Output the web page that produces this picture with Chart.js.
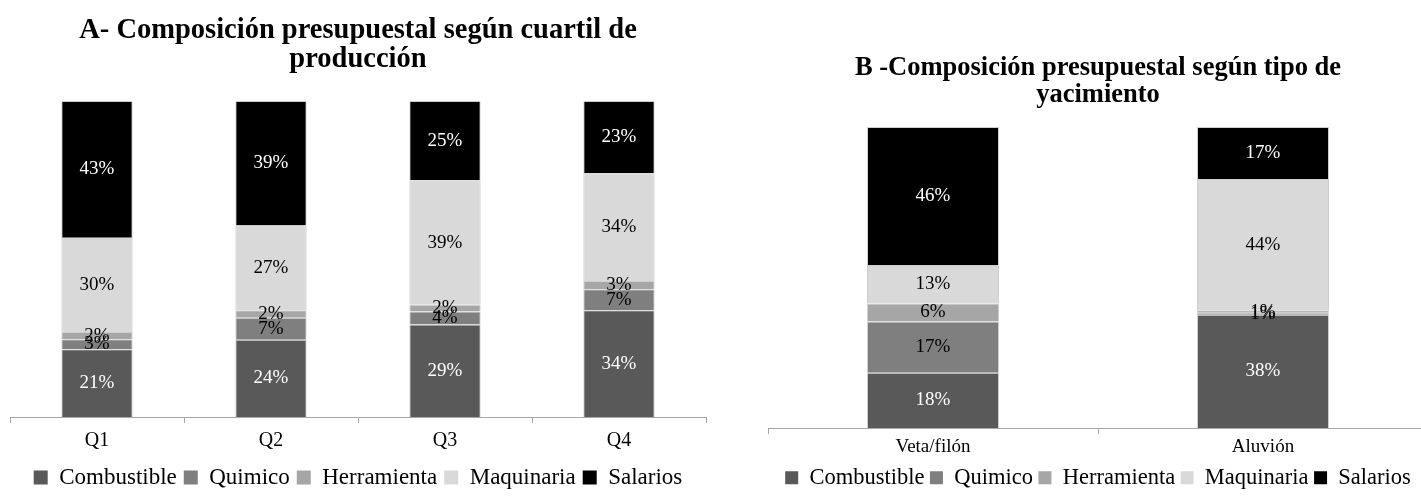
<!DOCTYPE html>
<html>
<head>
<meta charset="utf-8">
<script src="https://cdn.jsdelivr.net/npm/chart.js@4.4.0/dist/chart.umd.min.js"></script>
<style>
    html, body { margin: 0; padding: 0; background: #fff; overflow: hidden; width: 1421px; height: 499px; }
    #wrapA { position: absolute; left: 0; top: 0; width: 716px; height: 499px; }
    #wrapB { position: absolute; left: 740px; top: 0; width: 720px; height: 499px; }
</style>
</head>
<body>
<div id="wrapA"><canvas id="chartA"></canvas></div>
<div id="wrapB"><canvas id="chartB"></canvas></div>
<script>
// Series shared by both charts
const seriesNames = ['Combustible', 'Quimico', 'Herramienta', 'Maquinaria', 'Salarios'];
const seriesColors = ['#595959', '#7f7f7f', '#a6a6a6', '#d9d9d9', '#000000'];
const labelColors = ['#ffffff', '#000000', '#000000', '#000000', '#ffffff'];

// A - by production quartile (% of budget)
const quartiles = ['Q1', 'Q2', 'Q3', 'Q4'];
const combustibleA = [21.4, 24.4, 29.3, 33.8];
const quimicoA = [3.2, 7.0, 4.1, 6.6];
const herramientaA = [2.3, 2.4, 2.1, 2.6];
const maquinariaA = [29.8, 26.8, 39.4, 34.1];
const salariosA = [43.3, 39.4, 25.1, 22.9];

// B - by deposit type (% of budget)
const yacimientos = ['Veta/filón', 'Aluvión'];
const combustibleB = [18.4, 37.6];
const quimicoB = [17.0, 0.7];
const herramientaB = [6.0, 0.8];
const maquinariaB = [12.8, 43.6];
const salariosB = [45.8, 17.3];

const serif = 'Liberation Serif';

// draws the % value in the middle of each segment
const segmentLabels = {
    id: 'segmentLabels',
    afterDatasetsDraw(chart, args, opts) {
        const ctx = chart.ctx;
        ctx.save();
        ctx.font = opts.size + 'px "' + serif + '"';
        ctx.textAlign = 'center';
        ctx.textBaseline = 'middle';
        chart.data.datasets.forEach((ds, i) => {
            chart.getDatasetMeta(i).data.forEach((bar, j) => {
                ctx.fillStyle = labelColors[i];
                ctx.fillText(Math.round(ds.data[j]) + '%', bar.x, (bar.y + bar.base) / 2);
            });
        });
        ctx.restore();
    }
};

function makeChart(id, cats, series, cfg) {
    return new Chart(document.getElementById(id), {
        type: 'bar',
        data: {
            labels: cats,
            datasets: seriesNames.map((name, i) => ({
                label: name,
                data: series[i],
                backgroundColor: seriesColors[i],
                borderColor: '#cfcfcf',
                borderWidth: 1,
                barPercentage: cfg.barPct,
                categoryPercentage: 1
            }))
        },
        options: {
            responsive: true,
            maintainAspectRatio: false,
            animation: false,
            layout: { padding: cfg.padding },
            plugins: {
                title: {
                    display: true,
                    text: cfg.title,
                    color: '#000',
                    font: { family: serif, size: cfg.titleSize, weight: 'bold', lineHeight: cfg.titleLH },
                    padding: cfg.titlePad
                },
                legend: {
                    position: 'bottom',
                    labels: {
                        color: '#000',
                        boxWidth: cfg.box,
                        boxHeight: cfg.box,
                        padding: cfg.legendPad,
                        font: { family: serif, size: cfg.legendSize, lineHeight: 1 },
                        generateLabels: (chart) => Chart.defaults.plugins.legend.labels.generateLabels(chart)
                            .map(item => Object.assign(item, { lineWidth: 0 }))
                    }
                },
                tooltip: { enabled: false },
                segmentLabels: { size: cfg.labelSize }
            },
            scales: {
                x: {
                    stacked: true,
                    grid: { offset: true, drawOnChartArea: false, tickLength: 6, color: '#a6a6a6' },
                    border: { color: '#a6a6a6' },
                    ticks: { color: '#000', padding: cfg.tickPad, font: { family: serif, size: cfg.tickSize, lineHeight: 1 } }
                },
                y: { stacked: true, display: false, min: 0, max: 100 }
            }
        },
        plugins: [segmentLabels]
    });
}

window.onload = () => {
    makeChart('chartA', quartiles,
        [combustibleA, quimicoA, herramientaA, maquinariaA, salariosA], {
            title: ['A- Composición presupuestal según cuartil de', 'producción'],
            titleSize: 28.5, titleLH: 1.03, titlePad: { top: 15.8, bottom: 26.4 },
            padding: { left: 10, right: 10, bottom: 0 },
            barPct: 0.41, box: 14, legendPad: 7, legendSize: 23,
            tickSize: 20, tickPad: 8, labelSize: 19
        });
    makeChart('chartB', yacimientos,
        [combustibleB, quimicoB, herramientaB, maquinariaB, salariosB], {
            title: ['B -Composición presupuestal según tipo de', 'yacimiento'],
            titleSize: 26.5, titleLH: 1.02, titlePad: { top: 54.5, bottom: 18.5 },
            padding: { left: 28, right: 32, bottom: 0 },
            barPct: 0.4, box: 13, legendPad: 5.5, legendSize: 22.5,
            tickSize: 19, tickPad: 4, labelSize: 19
        });
};
</script>
</body>
</html>
